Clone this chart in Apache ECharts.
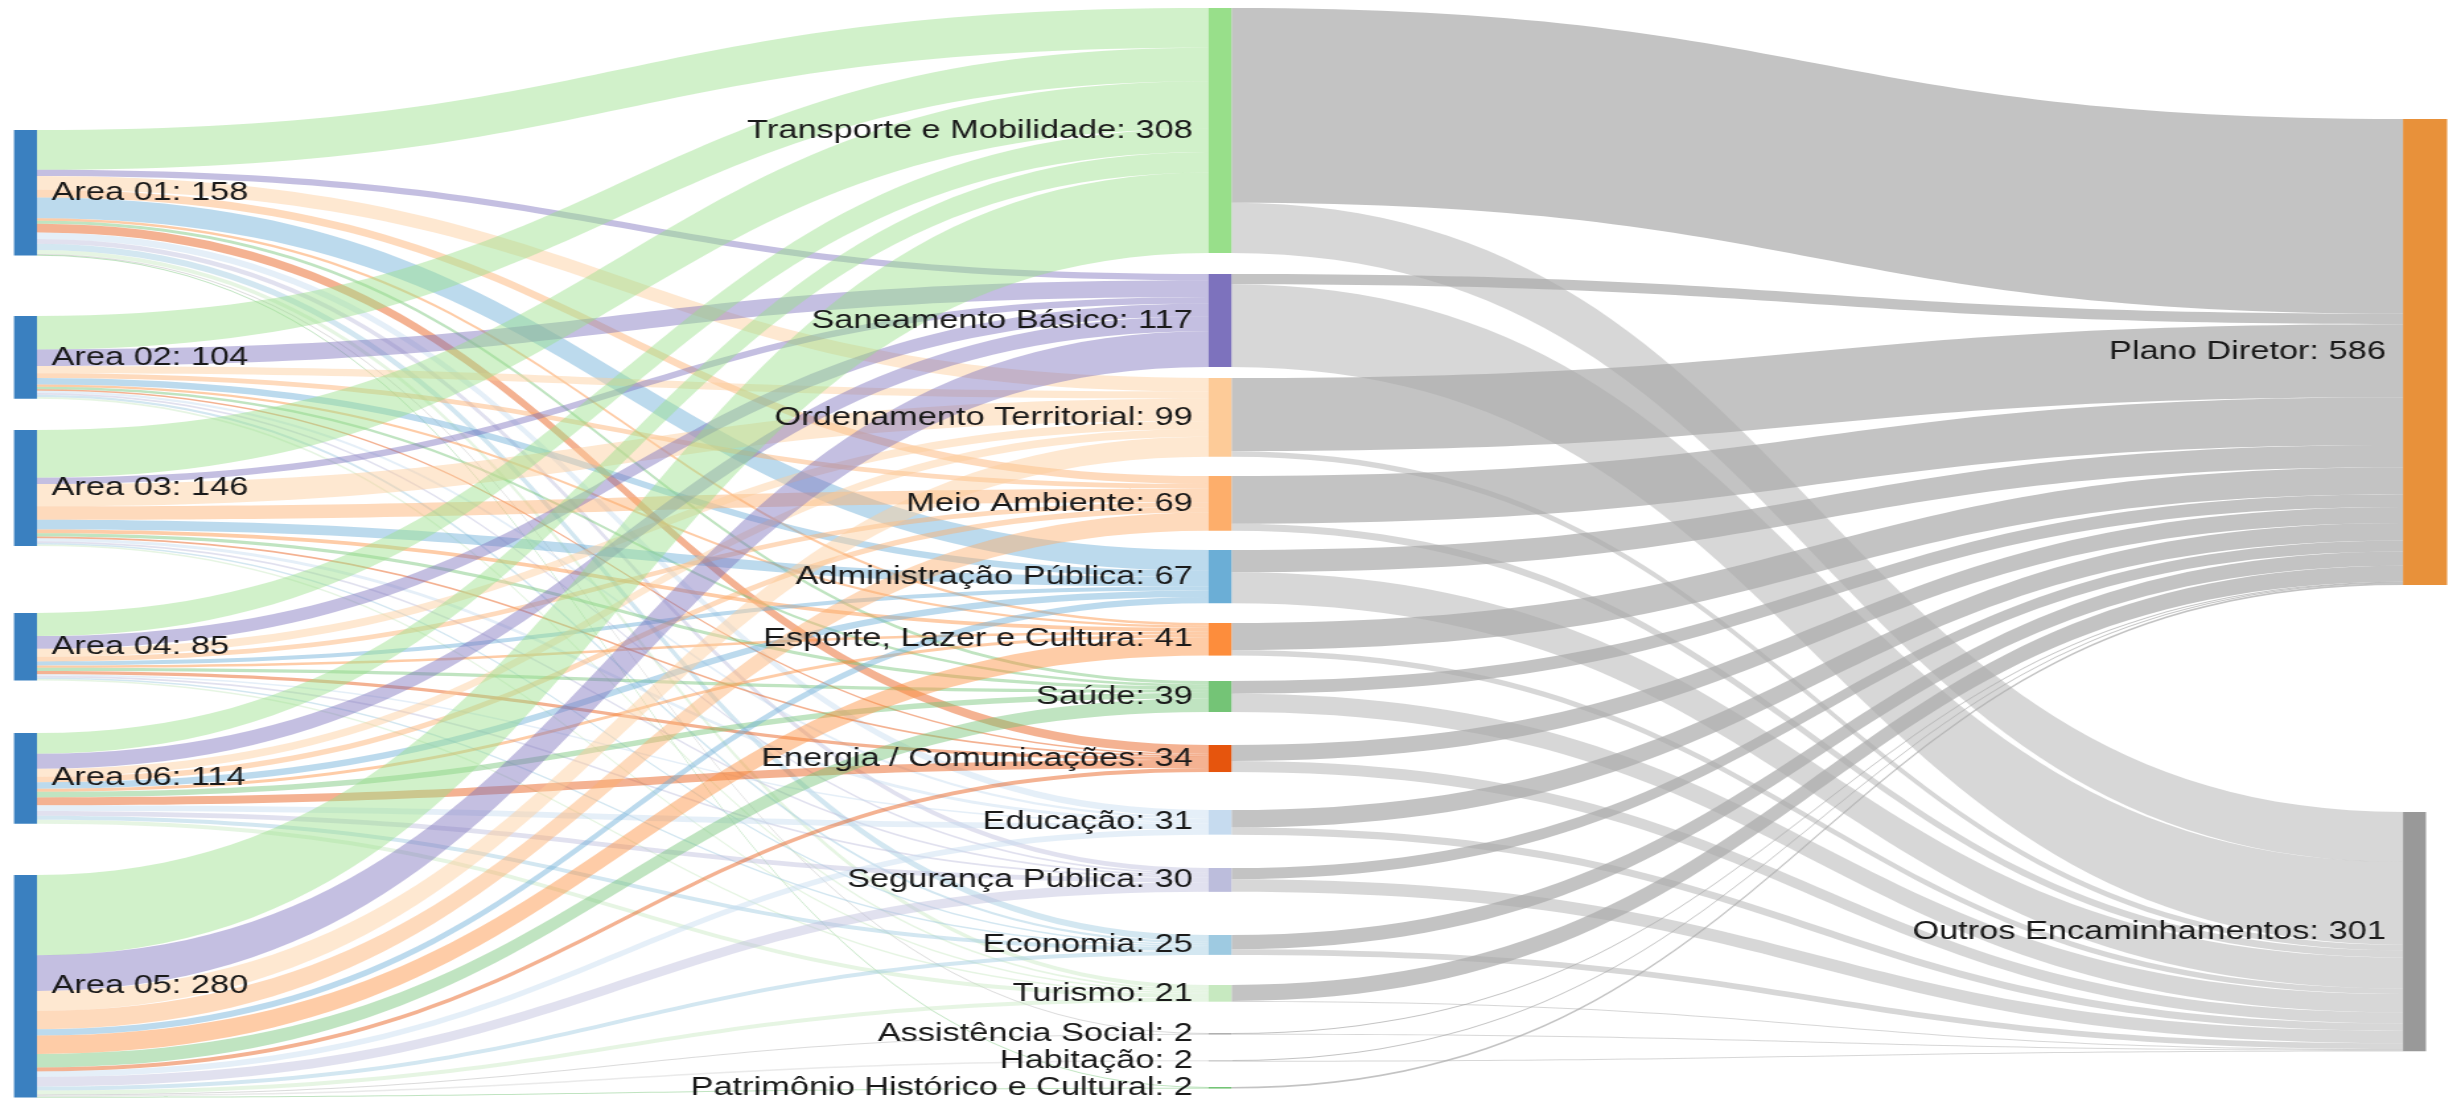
<!DOCTYPE html>
<html>
<head>
<meta charset="utf-8">
<script src="https://cdn.jsdelivr.net/npm/echarts@6/dist/echarts.min.js"></script>
<style>
  html, body { margin: 0; padding: 0; background: #fff; overflow: hidden; }
  /* the reference picture is stretched sideways, so the chart is too */
  #chart { width: 1860px; height: 1101px; transform: scaleX(1.32097); transform-origin: 0 0; }
</style>
</head>
<body>
<div id="chart"></div>
<script>
const areas = ['Area 01', 'Area 02', 'Area 03', 'Area 04', 'Area 06', 'Area 05'];
const themes = [
  'Transporte e Mobilidade', 'Saneamento Básico', 'Ordenamento Territorial', 'Meio Ambiente',
  'Administração Pública', 'Esporte, Lazer e Cultura', 'Saúde', 'Energia / Comunicações',
  'Educação', 'Segurança Pública', 'Economia', 'Turismo',
  'Assistência Social', 'Habitação', 'Patrimônio Histórico e Cultural'
];
const destinations = ['Plano Diretor', 'Outros Encaminhamentos'];

// demandas de cada área por tema (mesma ordem de themes)
const area01 = [50, 8, 17, 10, 26, 3, 4, 11, 8, 6, 8, 5, 1, 0, 1];
const area02 = [42, 21, 9, 6, 8, 3, 3, 2, 3, 2, 3, 2, 0, 0, 0];
const area03 = [60, 8, 28, 17, 12, 5, 4, 2, 4, 2, 2, 2, 0, 0, 0];
const area04 = [29, 16, 10, 6, 5, 3, 4, 4, 2, 2, 2, 2, 0, 0, 0];
const area06 = [26, 19, 10, 7, 8, 4, 7, 10, 7, 6, 5, 5, 0, 0, 0];
const area05 = [101, 45, 25, 23, 8, 23, 17, 5, 7, 12, 5, 5, 1, 2, 1];
const areaRows = [area01, area02, area03, area04, area06, area05];

// encaminhamento de cada tema
const toPlano = [245, 13, 92, 60, 28, 34, 16, 20, 22, 14, 18, 20, 1, 1, 2];
const toOutros = [63, 104, 7, 9, 39, 7, 23, 14, 9, 16, 7, 1, 1, 1, 0];

// node placement (top edge, px of the 1101px-high picture)
const areaTop = [130, 316, 430, 613, 733, 875];
const themeTop = [8, 274, 378, 476, 550, 623, 681, 745, 810, 868, 935, 985, 1033, 1060, 1087];
const destTop = [119, 812];

const themeColors = [
  '#98df8a', '#7d72bd', '#fdcb98', '#fdae6b', '#6baed6', '#fd8d3c', '#74c476', '#e6550d',
  '#c6dbef', '#bcbddc', '#9ecae1', '#c7e9c0', '#b0b0b0', '#d0d0d0', '#74c476'
];
const areaColor = '#3a80c0';
const destColors = ['#e8913a', '#999999'];

const H = 1101;
const labelFont = { fontFamily: 'Liberation Sans, Arial, sans-serif', fontSize: 26, color: '#1a1a1a' };

const nodes = [];
areas.forEach((name, i) => {
  nodes.push({
    name,
    localY: areaTop[i] / H,
    itemStyle: { color: areaColor },
    label: { position: 'right', distance: 11 },
  });
});
themes.forEach((name, i) => {
  nodes.push({
    name,
    localY: themeTop[i] / H,
    itemStyle: { color: themeColors[i] },
    label: { position: 'left', distance: 12 },
  });
});
destinations.forEach((name, i) => {
  const node = {
    name,
    localY: destTop[i] / H,
    itemStyle: { color: destColors[i] },
    label: { position: 'left', distance: 13 },
  };
  if (i === 0) {
    // Plano Diretor bar is drawn wider in the reference
    node.itemStyle.shadowColor = destColors[0];
    node.itemStyle.shadowOffsetX = 16;
    node.itemStyle.shadowBlur = 0;
  }
  nodes.push(node);
});

const links = [];
areaRows.forEach((row, i) => {
  row.forEach((v, j) => {
    if (v > 0) {
      links.push({
        source: areas[i],
        target: themes[j],
        value: v,
        lineStyle: { color: themeColors[j], opacity: 0.45 },
      });
    }
  });
});
themes.forEach((t, j) => {
  if (toPlano[j] > 0) {
    links.push({ source: t, target: destinations[0], value: toPlano[j], lineStyle: { color: '#a9a9a9', opacity: 0.7 } });
  }
  if (toOutros[j] > 0) {
    links.push({ source: t, target: destinations[1], value: toOutros[j], lineStyle: { color: '#bdbdbd', opacity: 0.6 } });
  }
});

const myChart = echarts.init(document.getElementById('chart'));
myChart.setOption({
  animation: false,
  backgroundColor: '#fff',
  series: [
    {
      type: 'sankey',
      left: 10.6,
      right: 23.5,
      top: 0,
      bottom: 0,
      nodeWidth: 17.4,
      nodeGap: 28.27,
      layoutIterations: 0,
      draggable: false,
      emphasis: { disabled: true },
      itemStyle: { borderWidth: 0 },
      lineStyle: { curveness: 0.5 },
      label: {
        ...labelFont,
        formatter: '{b}: {c}',
      },
      data: nodes,
      links,
    },
  ],
});
window.addEventListener('resize', () => {
  myChart.resize();
});
</script>
</body>
</html>
